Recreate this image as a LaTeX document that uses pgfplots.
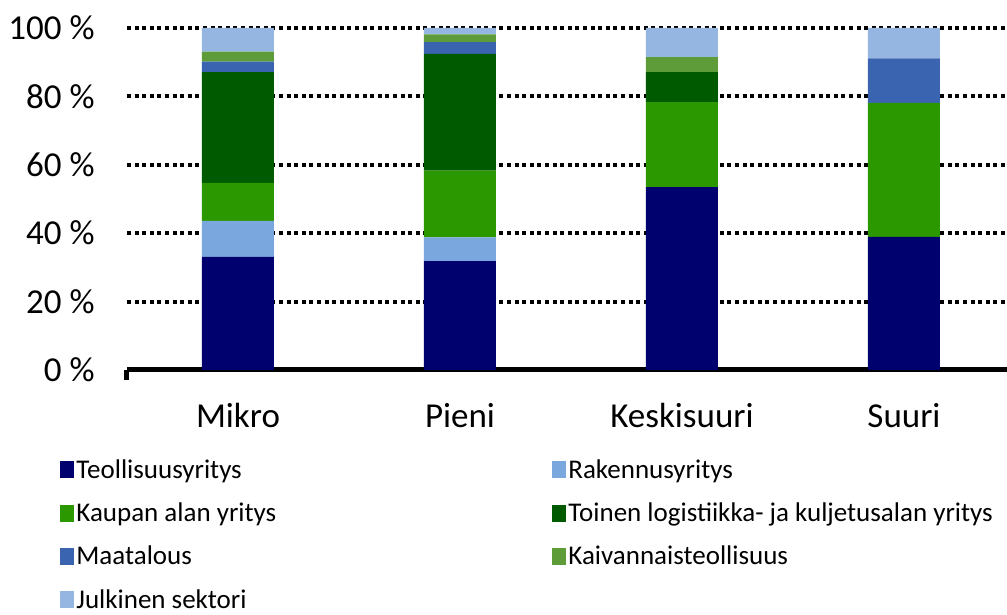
\documentclass[border=0pt]{standalone}
\usepackage{pgfplots}
\pgfplotsset{compat=1.18}
\usepackage{fontspec}
\setmainfont{Carlito}
\definecolor{cTeol}{RGB}{0,0,110}
\definecolor{cRak}{RGB}{122,167,222}
\definecolor{cKau}{RGB}{44,152,0}
\definecolor{cToi}{RGB}{0,90,0}
\definecolor{cMaa}{RGB}{59,100,176}
\definecolor{cKai}{RGB}{94,156,58}
\definecolor{cJul}{RGB}{149,182,224}
\newcommand{\lw}[1]{\makebox[237pt][l]{#1}}
\begin{document}
\begin{tikzpicture}
\useasboundingbox (-63.5pt,-122.5pt) rectangle (440pt,185pt);
\begin{axis}[
  scale only axis,
  width=440pt, height=171pt,
  xmin=-0.5, xmax=3.464,
  ymin=0, ymax=100,
  ybar stacked, bar width=36pt,
  axis line style={draw=none},
  xtick={0,1,2,3},
  xtick pos=bottom,
  xticklabels={Mikro,Pieni,Keskisuuri,Suuri},
  xticklabel style={anchor=base, yshift=-28.5pt, inner sep=0pt, font=\fontsize{17.5pt}{21pt}\selectfont},
  major tick length=0pt,
  ytick={20,40,60,80,100},
  yticklabels={20 \%,40 \%,60 \%,80 \%,100 \%},
  yticklabel style={anchor=east, inner sep=0pt, xshift=-16pt, font=\fontsize{17.5pt}{21pt}\selectfont},
  /pgf/number format/assume math mode=true,
  ymajorgrids,
  major grid style={black, line width=2pt, dash pattern=on 2pt off 1.8pt},
  extra y ticks={0},
  extra y tick labels={0 \%},
  extra y tick style={grid=major, major grid style={black, line width=2.5pt, solid}},
  extra x ticks={-0.5},
  extra x tick labels={},
  extra x tick style={major tick length=5pt, tick align=outside, major tick style={black, line width=2.5pt}},
  legend columns=2,
  legend image code/.code={\fill[#1] (0pt,-4pt) rectangle (7pt,4.5pt);},
  legend style={draw=none, inner sep=0pt, at={(rel axis cs:0,0)}, anchor=north west,
    xshift=-33.5pt, yshift=-43.5pt, row sep=8.8pt,
    nodes={inner sep=1pt}, cells={anchor=west},
    font=\fontsize{13.5pt}{16pt}\selectfont},
]
\addplot[fill=cTeol, draw=none] coordinates {(0,33.1) (1,31.8) (2,53.5) (3,38.9)};
\addlegendentry{\lw{Teollisuusyritys}}
\addplot[fill=cRak, draw=none] coordinates {(0,10.5) (1,7.0) (2,0) (3,0)};
\addlegendentry{Rakennusyritys}
\addplot[fill=cKau, draw=none] coordinates {(0,11.1) (1,19.5) (2,24.8) (3,39.2)};
\addlegendentry{\lw{Kaupan alan yritys}}
\addplot[fill=cToi, draw=none] coordinates {(0,32.4) (1,34.1) (2,8.8) (3,0)};
\addlegendentry{Toinen logistiikka- ja kuljetusalan yritys}
\addplot[fill=cMaa, draw=none] coordinates {(0,3.1) (1,3.5) (2,0) (3,13.0)};
\addlegendentry{\lw{Maatalous}}
\addplot[fill=cKai, draw=none] coordinates {(0,2.9) (1,2.2) (2,4.4) (3,0)};
\addlegendentry{Kaivannaisteollisuus}
\addplot[fill=cJul, draw=none] coordinates {(0,6.9) (1,1.9) (2,8.5) (3,8.9)};
\addlegendentry{\lw{Julkinen sektori}}
\end{axis}
\end{tikzpicture}
\end{document}
